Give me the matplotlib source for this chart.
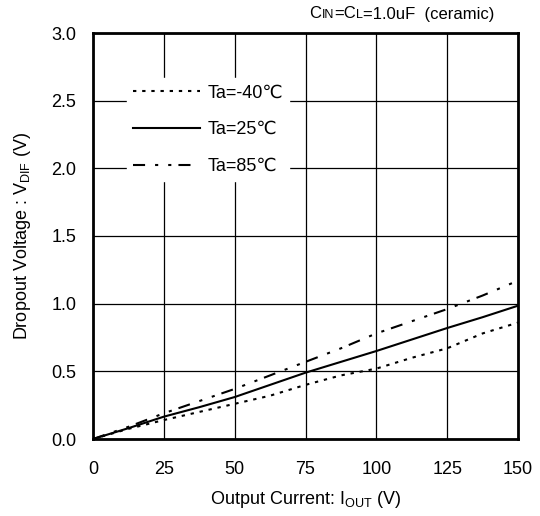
import matplotlib
matplotlib.use("Agg")
import matplotlib.pyplot as plt
from matplotlib.offsetbox import TextArea, HPacker, AnnotationBbox

plt.rcParams['font.family'] = ['Liberation Sans', 'DejaVu Sans']
plt.rcParams['mathtext.fontset'] = 'custom'
plt.rcParams['mathtext.rm'] = 'Liberation Sans'

# Output current (mA) and dropout voltage (V) per temperature
iout = [0, 12.5, 25, 37.5, 50, 62.5, 75, 87.5, 100, 112.5, 125, 137.5, 150]
vdif_m40 = [0, 0.075, 0.14, 0.20, 0.26, 0.32, 0.40, 0.47, 0.52, 0.60, 0.67, 0.78, 0.86]
vdif_25 = [0, 0.08, 0.165, 0.235, 0.31, 0.40, 0.49, 0.57, 0.65, 0.735, 0.82, 0.90, 0.985]
vdif_85 = [0, 0.09, 0.19, 0.28, 0.37, 0.47, 0.57, 0.67, 0.78, 0.87, 0.96, 1.06, 1.17]

xticks = [0, 25, 50, 75, 100, 125, 150]
yticks = [0.0, 0.5, 1.0, 1.5, 2.0, 2.5, 3.0]

fig = plt.figure(figsize=(5.4, 5.16), dpi=100)
ax = fig.add_axes([93/540, 1-439/516, 425/540, 406/516])

ax.plot(iout, vdif_m40, color='black', lw=1.5, ls=(0, (1.6, 2.8)), label='Ta=-40℃')
ax.plot(iout, vdif_25, color='black', lw=1.5, ls='-', label='Ta=25℃')
ax.plot(iout, vdif_85, color='black', lw=1.5, ls=(0, (5.8, 4.8, 1.5, 4.8, 1.5, 3.4)),
        label='Ta=85℃')

ax.set_xlim(0, 150)
ax.set_ylim(0, 3.0)
ax.set_xticks(xticks)
ax.set_yticks(yticks)
ax.set_yticklabels([f"{v:.1f}" for v in yticks])
ax.tick_params(length=0, labelsize=13)
ax.tick_params(axis='x', pad=16)
ax.tick_params(axis='y', pad=12)
ax.grid(True, color='black', lw=0.9)
for s in ax.spines.values():
    s.set_linewidth(2.0)

ax.set_xlabel(r'Output Current: I$_{\mathrm{OUT}}$ (V)', fontsize=13, labelpad=8)
ax.set_ylabel(r'Dropout Voltage : V$_{\mathrm{DIF}}$ (V)', fontsize=13, labelpad=13)

# header note with on-baseline small subscripts
parts = [("C", 12), ("IN", 9), ("=C", 12), ("L", 9), ("=1.0uF  (ceramic)", 12)]
pack = HPacker(children=[TextArea(t, textprops=dict(fontsize=s)) for t, s in parts],
               align="baseline", pad=0, sep=0)
fig.add_artist(AnnotationBbox(pack, (494/540, 1-14/516), xycoords='figure fraction',
                              box_alignment=(1, 0.5), frameon=False))

leg = ax.legend(loc='upper left', bbox_to_anchor=(0.08, 0.889), fontsize=13,
                handlelength=3.7, labelspacing=1.1, handletextpad=0.4,
                borderpad=0.35, borderaxespad=0, frameon=True, fancybox=False,
                framealpha=1)
leg.get_frame().set_edgecolor('white')

fig.savefig('out.png', dpi=100)
